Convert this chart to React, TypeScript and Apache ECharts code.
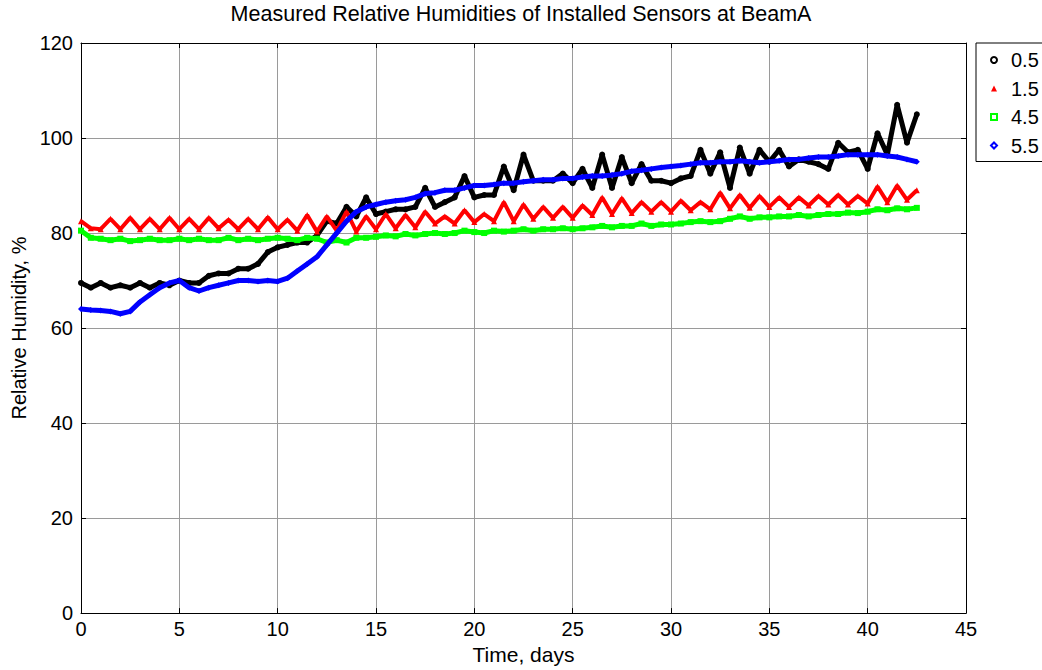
import React, { useEffect, useRef } from "react";
import * as echarts from "echarts";

// Sampling times (days since installation)
const days = [
  0, 0.5, 1, 1.5, 2, 2.5, 3, 3.5, 4, 4.5,
  5, 5.5, 6, 6.5, 7, 7.5, 8, 8.5, 9, 9.5,
  10, 10.5, 11, 11.5, 12, 12.5, 13, 13.5, 14, 14.5,
  15, 15.5, 16, 16.5, 17, 17.5, 18, 18.5, 19, 19.5,
  20, 20.5, 21, 21.5, 22, 22.5, 23, 23.5, 24, 24.5,
  25, 25.5, 26, 26.5, 27, 27.5, 28, 28.5, 29, 29.5,
  30, 30.5, 31, 31.5, 32, 32.5, 33, 33.5, 34, 34.5,
  35, 35.5, 36, 36.5, 37, 37.5, 38, 38.5, 39, 39.5,
  40, 40.5, 41, 41.5, 42, 42.5,
];

// Relative humidity (%) per sensor depth
const rh05 = [
  69.5, 68.5, 69.5, 68.5, 69, 68.5, 69.5, 68.5, 69.5, 69,
  70, 69.5, 69.5, 71, 71.5, 71.5, 72.5, 72.5, 73.5, 76,
  77, 77.5, 78, 78, 79.5, 82.5, 82, 85.5, 83.5, 87.5,
  84, 84.5, 85, 85, 85.5, 89.5, 85.5, 86.5, 87.5, 92,
  87.5, 88, 88, 94, 89, 96.5, 91, 91, 91, 92.5,
  90.5, 93.5, 89.5, 96.5, 89.5, 96, 90.5, 94.5, 91, 91,
  90.5, 91.5, 92, 97.5, 92.5, 97, 89.5, 98, 92.5, 97.5,
  95, 97.5, 94, 95.5, 95, 94.5, 93.5, 99, 97, 97.5,
  93.5, 101, 96.5, 107, 99, 105,
];

const rh15 = [
  82.5, 81, 80.8, 83, 80.8, 83.2, 80.8, 83, 80.8, 83.2,
  80.8, 83, 80.8, 83.2, 81, 82.8, 80.8, 83, 80.8, 83.3,
  80.8, 82.8, 80.5, 83.8, 80.3, 83.5, 80.5, 84.5, 80.3, 83.5,
  80.8, 84, 81, 83.8, 81.2, 84.5, 82, 83.5, 82, 84.8,
  82.3, 84, 82.5, 86.5, 82.5, 86, 83, 85.5, 83.2, 85.5,
  83.2, 85.8, 83.8, 87.5, 84, 87.3, 84.2, 86.5, 84.5, 86.5,
  84.5, 86.8, 84.8, 86.5, 85, 88.5, 85.2, 88, 85.3, 87.8,
  85.5, 87.5, 85.5, 87.5, 85.8, 87.8, 86, 88, 86, 87.8,
  86.2, 89.8, 86.5, 90, 87, 89,
];

const rh45 = [
  80.5, 79, 78.8, 78.5, 78.8, 78.3, 78.5, 78.8, 78.5, 78.5,
  78.8, 78.5, 78.8, 78.5, 78.5, 79, 78.5, 78.8, 78.5, 78.8,
  79, 78.8, 78.5, 79, 78.8, 78, 78.5, 78, 79, 79,
  79.2, 79.5, 79.3, 79.8, 79.5, 79.8, 80, 79.8, 80, 80.5,
  80.2, 80, 80.5, 80.3, 80.5, 80.8, 80.5, 80.8, 80.8, 81,
  80.8, 81, 81.2, 81.5, 81.2, 81.5, 81.5, 82, 81.5, 81.8,
  81.8, 82, 82.3, 82.5, 82.3, 82.5, 83, 83.5, 83, 83.3,
  83.3, 83.5, 83.5, 83.8, 83.5, 83.8, 84, 84, 84.3, 84.2,
  84.5, 85, 84.8, 85.2, 85, 85.3,
];

const rh55 = [
  64, 63.8, 63.7, 63.5, 63, 63.5, 65.5, 67, 68.5, 69.5,
  70, 68.5, 67.8, 68.5, 69, 69.5, 70, 70, 69.8, 70,
  69.8, 70.5, 72, 73.5, 75, 77.5, 80, 82.5, 84.5, 85.5,
  86, 86.5, 86.8, 87, 87.5, 88.3, 88.5, 89, 89, 89.5,
  90, 90, 90.2, 90.5, 90.5, 90.8, 91, 91.2, 91.2, 91.5,
  91.5, 91.8, 92, 92, 92.2, 92.5, 93, 93.2, 93.5, 93.8,
  94, 94.2, 94.5, 94.8, 94.8, 95, 95, 95.2, 95, 94.8,
  95, 95.2, 95.5, 95.5, 95.8, 96, 96, 96.2, 96.5, 96.5,
  96.5, 96.5, 96.2, 96, 95.5, 95,
];

const sensorNames = ["0.5", "1.5", "4.5", "5.5"];
const sensorValues = [rh05, rh15, rh45, rh55];
const sensorColors = ["#000000", "#ff0000", "#00ff00", "#0000ff"];
const sensorSymbols = ["circle", "triangle", "rect", "diamond"];
const legendIcons = ["emptyCircle", "triangle", "emptyRect", "emptyDiamond"];
const bandWidths = [5, 4, 5, 5];

const FONT = "'Liberation Sans', Arial, Helvetica, sans-serif";

export default function App() {
  const ref = useRef<HTMLDivElement>(null);

  useEffect(() => {
    document.body.style.margin = "0";
    if (!ref.current) return;
    const chart = echarts.init(ref.current, undefined, { renderer: "svg" });

    const series = sensorNames.map((name, k) => ({
      name,
      type: "line",
      xAxisIndex: 0,
      yAxisIndex: 0,
      data: days.map((d, i) => [d, sensorValues[k][i]]),
      symbol: sensorSymbols[k],
      symbolSize: 6,
      showSymbol: true,
      showAllSymbol: true,
      lineStyle: { width: bandWidths[k], color: sensorColors[k] },
      itemStyle: { color: sensorColors[k] },
      emphasis: { disabled: true },
      z: 2 + k,
    }));

    const tickLabel = { color: "#000", fontSize: 20, fontFamily: FONT };

    chart.setOption({
      animation: false,
      backgroundColor: "#ffffff",
      title: {
        text: "Measured Relative Humidities of Installed Sensors at BeamA",
        left: "center",
        top: 3,
        padding: 0,
        textStyle: { color: "#000", fontSize: 21.5, fontWeight: "normal", fontFamily: FONT },
      },
      legend: {
        orient: "vertical",
        left: 976,
        top: 43,
        backgroundColor: "#ffffff",
        borderColor: "#000",
        borderWidth: 1,
        borderRadius: 0,
        padding: [7, 30, 6, 14],
        itemWidth: 6,
        itemHeight: 6,
        itemGap: 8.5,
        selectedMode: false,
        textStyle: { color: "#000", fontSize: 20, fontFamily: FONT, padding: [0, 0, 0, 9] },
        data: sensorNames.map((name, k) => ({ name, icon: legendIcons[k] })),
      },
      grid: { left: 81, right: 76, top: 43, bottom: 54, containLabel: false },
      xAxis: [
        {
          type: "value",
          min: 0,
          max: 45,
          interval: 5,
          name: "Time, days",
          nameLocation: "middle",
          nameGap: 30,
          nameTextStyle: { color: "#000", fontSize: 21, fontFamily: FONT },
          axisLine: { show: true, lineStyle: { color: "#000", width: 1 } },
          axisTick: { show: true, inside: true, length: 5, lineStyle: { color: "#000" } },
          axisLabel: { ...tickLabel, margin: 6 },
          splitLine: { show: true, lineStyle: { color: "#9a9a9a", width: 1 } },
        },
        {
          type: "value",
          position: "top",
          min: 0,
          max: 45,
          interval: 5,
          axisLine: { show: true, onZero: false, lineStyle: { color: "#000", width: 1 } },
          axisTick: { show: true, inside: true, length: 5, lineStyle: { color: "#000" } },
          axisLabel: { show: false },
          splitLine: { show: false },
        },
      ],
      yAxis: [
        {
          type: "value",
          min: 0,
          max: 120,
          interval: 20,
          name: "Relative Humidity, %",
          nameLocation: "middle",
          nameGap: 47,
          nameTextStyle: { color: "#000", fontSize: 20, fontFamily: FONT },
          axisLine: { show: true, lineStyle: { color: "#000", width: 1 } },
          axisTick: { show: true, inside: true, length: 5, lineStyle: { color: "#000" } },
          axisLabel: { ...tickLabel, margin: 8 },
          splitLine: { show: true, lineStyle: { color: "#9a9a9a", width: 1 } },
        },
        {
          type: "value",
          position: "right",
          min: 0,
          max: 120,
          interval: 20,
          axisLine: { show: true, onZero: false, lineStyle: { color: "#000", width: 1 } },
          axisTick: { show: true, inside: true, length: 5, lineStyle: { color: "#000" } },
          axisLabel: { show: false },
          splitLine: { show: false },
        },
      ],
      series,
    });

    return () => chart.dispose();
  }, []);

  return <div ref={ref} style={{ width: 1042, height: 670 }} />;
}
